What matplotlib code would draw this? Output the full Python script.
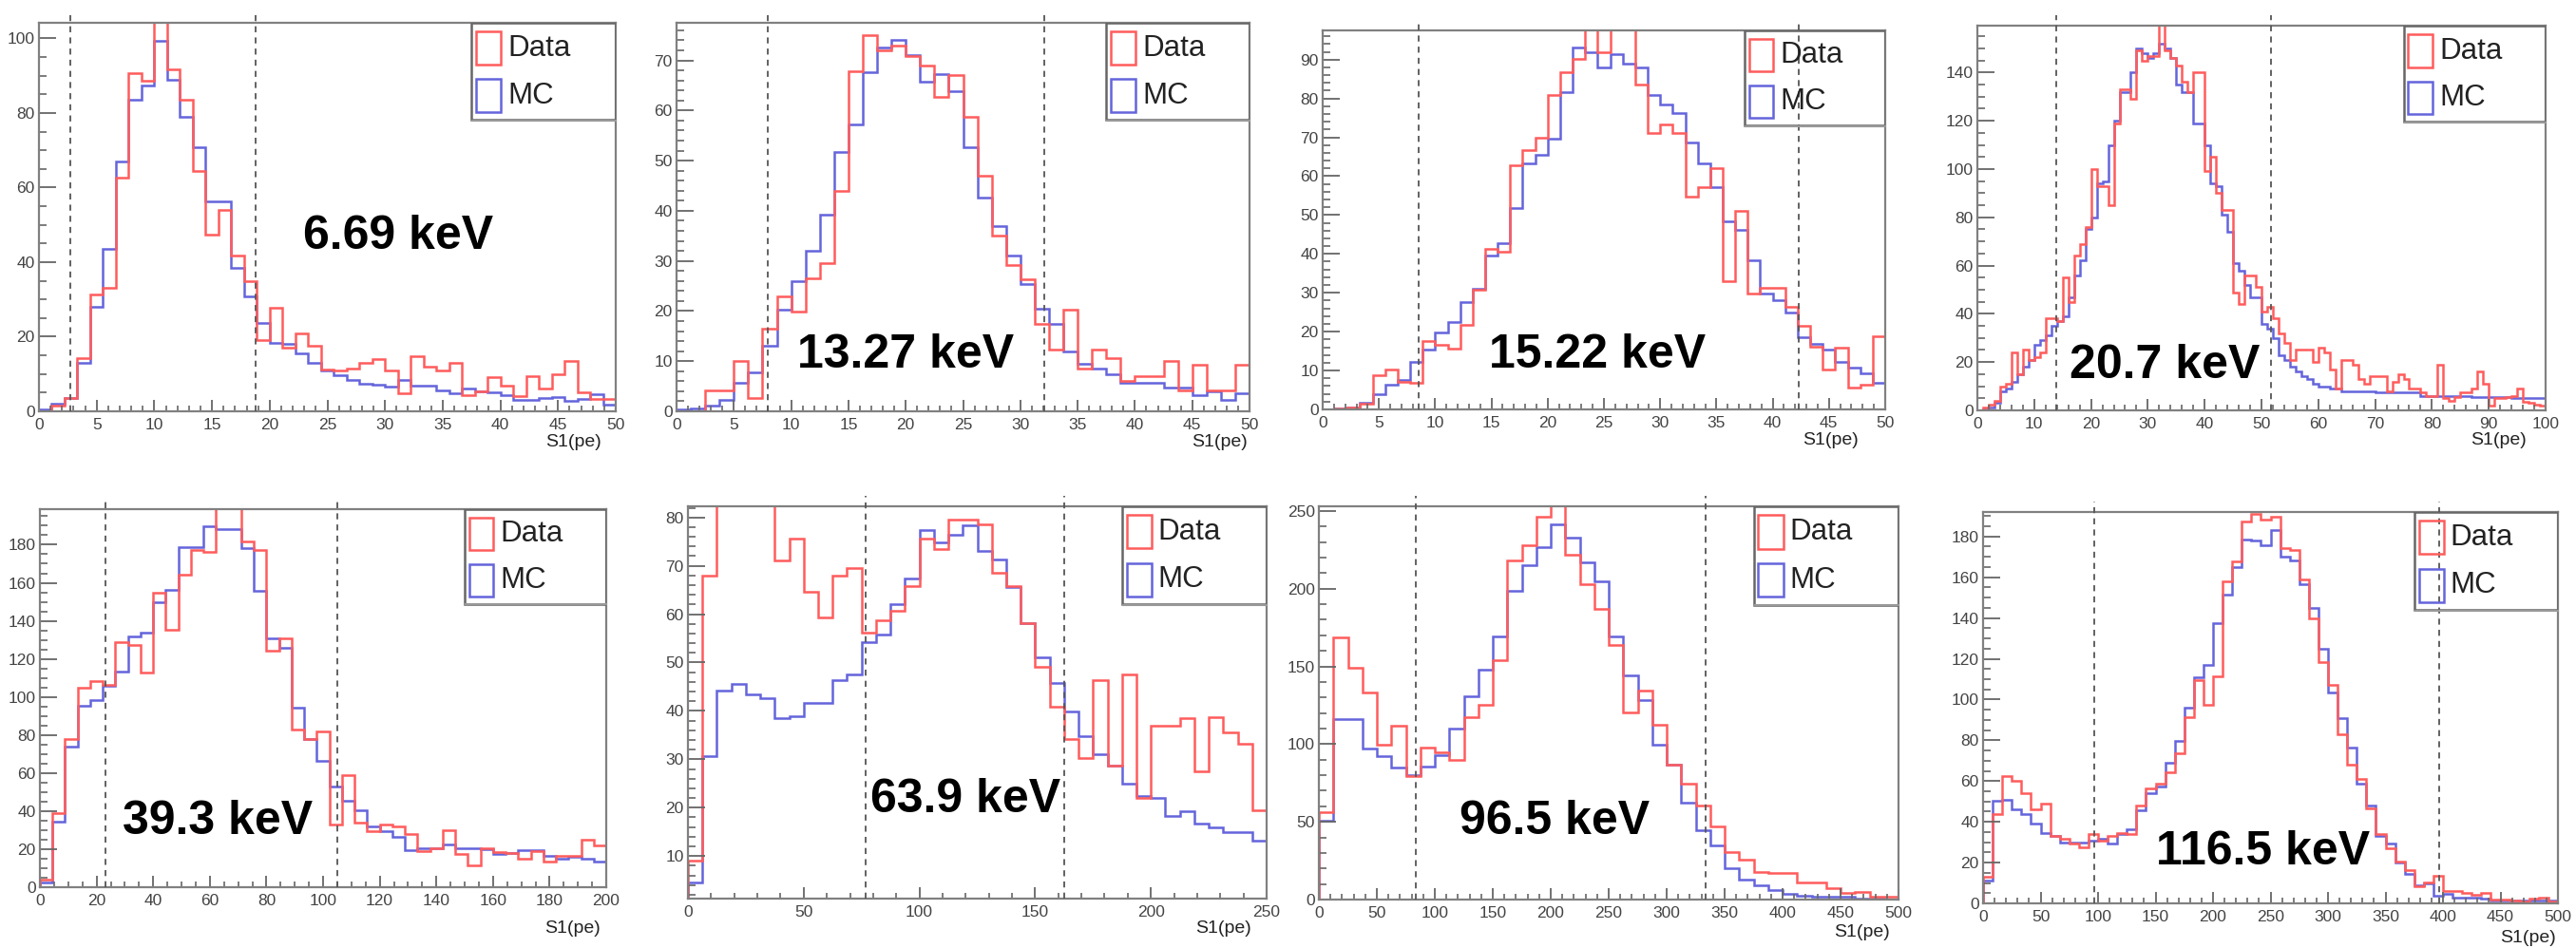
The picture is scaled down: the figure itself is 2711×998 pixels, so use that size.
import numpy as np
import matplotlib
matplotlib.use("Agg")
import matplotlib.pyplot as plt
from matplotlib.patches import Rectangle
from matplotlib.ticker import MultipleLocator

plt.rcParams['font.family'] = ['Liberation Sans', 'DejaVu Sans']

# ---- values (counts per bin) ----
labels = ['6.69 keV', '13.27 keV', '15.22 keV', '20.7 keV',
          '39.3 keV', '63.9 keV', '96.5 keV', '116.5 keV']

# x range and number of bins of every histogram
x_ranges = [(0, 50), (0, 50), (0, 50), (0, 100), (0, 200), (0, 250), (0, 500), (0, 500)]
n_bins = [45, 40, 45, 100, 45, 40, 40, 60]

# selection window (dashed lines)
cuts = [(2.7, 18.8), (8.0, 32.1), (8.5, 42.3), (13.9, 51.6),
        (23, 105), (76.6, 162.5), (83.8, 334), (96.9, 397)]

data_669 = [0, 1.5, 3.5, 14.3, 31.3, 33, 62.8, 90.8, 88.7, 108, 91.8, 83.6, 64.5, 47.4, 54,
            41.7, 34.9, 19, 27.7, 17.1, 20.8, 17.7, 11.1, 11, 11.5, 13, 13.9, 11, 4.9, 14.9,
            11.9, 11, 13, 4.3, 5.4, 9.2, 6.8, 4.1, 9.4, 6, 10, 13.5, 5, 3.4, 3.4]
mc_669 = [0.5, 2, 3.5, 13, 28, 43.6, 67, 83.6, 87.4, 99.3, 89, 79, 70.8, 56.4, 56.4,
          38.5, 30.9, 23.6, 18.3, 18, 15.6, 13, 11, 9.6, 8.3, 7.5, 7.2, 6.6, 8.3, 6.9,
          6.9, 5.6, 4.8, 6, 5.4, 5, 4.3, 3.1, 3.1, 3.5, 3.8, 2.9, 3.3, 4.5, 1.8]

data_1327 = [0, 0, 4.1, 4.1, 10.1, 2.7, 16.4, 23, 19.9, 26.5, 29.5, 44, 67.9, 75, 72, 73, 70.8,
             68.9, 62.7, 67, 58.8, 47, 35, 29.2, 26.3, 17.4, 12.3, 20.3, 8.5, 12.4, 10.7, 6.1,
             7.1, 7.1, 10.1, 4.2, 9.2, 4.1, 4.1, 9.2]
mc_1327 = [0.3, 0.5, 1.1, 2.2, 5.7, 7.7, 13.1, 20.3, 25.9, 32.1, 39.2, 51.8, 57.3, 67.6, 72.5,
           74, 71, 65.8, 67.3, 63.8, 52.7, 42.6, 37, 31, 25.3, 20.4, 17.4, 12, 9.5, 8.5, 7.3,
           5.7, 5.7, 5.7, 4.7, 4.7, 3.3, 4, 2.3, 3.6]

data_1522 = [0, 0.3, 0.5, 1.5, 8.8, 10.2, 7, 6.8, 17.7, 16.7, 15.7, 21.8, 30.8, 41.3, 40.5,
             62.7, 66.6, 69.8, 80.8, 86.7, 90.2, 101, 92, 101, 101, 83.6, 71.2, 73.2, 71.2,
             54.8, 57.2, 62.1, 33, 51.1, 29.7, 31.2, 31.2, 26.3, 21.4, 16.1, 10.2, 15.9, 5.5,
             6.3, 18.7]
mc_1522 = [0, 0.3, 0.5, 1.6, 3.9, 6.3, 7.6, 12.2, 15.3, 19.9, 22.5, 27.7, 31, 39.7, 42.7,
           51.9, 63.3, 65.5, 69.7, 81.6, 93, 92, 88, 91.5, 89, 88, 80.8, 78.4, 76.3, 68.6,
           63.3, 57.2, 48.3, 46.2, 38.3, 29.7, 28, 25, 18.5, 16.9, 15.3, 12.2, 10.8, 9.4, 6.8]

data_207 = [0, 1, 2.5, 4, 10, 11, 24, 15, 25, 21,
            22, 24, 38, 38, 37, 55, 45, 64, 69, 76,
            100, 93, 93, 85, 119, 133, 133, 129, 149, 145,
            147, 147, 165, 149, 146, 143, 136, 132, 140, 140,
            99, 105, 90, 83, 83, 49, 44, 56, 56, 51,
            41, 43, 38, 32, 28, 21, 25, 25, 25, 20,
            26, 24, 17, 9, 21, 21, 19, 13, 11, 14,
            14, 14, 8, 12, 15, 13, 9, 9, 7.5, 6,
            6, 19, 5, 4, 5.5, 7.5, 7.5, 9, 16, 11,
            2, 5, 5, 5.5, 6, 9, 3.5, 3, 2.5, 2]
mc_207 = [0, 0.5, 1, 3, 8, 9, 12, 15, 18, 21,
          27, 29, 31, 35, 37, 39, 47, 56, 62, 75,
          80, 94, 95, 110, 120, 132, 132, 140, 150, 148,
          146, 148, 152, 150, 146, 135, 132, 132, 119, 119,
          110, 94, 93, 81, 74, 61, 58, 52, 47, 47,
          36, 34, 30, 23, 21, 18, 16, 14, 13, 11,
          10, 10, 9, 9, 8, 8, 8, 8, 8, 8,
          7.5, 7.5, 7.5, 7.5, 7.5, 7.5, 7.5, 7.5, 6, 6,
          6, 6, 6, 6, 6, 6, 6, 5.5, 5.5, 5.5,
          5.5, 5.5, 5.5, 5.5, 5, 5, 5, 5, 5, 5]

data_393 = [4.1, 38.9, 78, 104.6, 108.4, 106.5, 128.6, 127.5, 113, 154.8, 135.3, 164.2, 177,
            176.3, 205, 205, 181.8, 177, 124.2, 131, 83, 78, 82, 33, 58.8, 34, 29.3, 33, 31.8,
            27.8, 19, 20.7, 29.8, 17.4, 11.6, 20.7, 18.5, 18.2, 14.9, 19, 13.6, 16.6, 16.6,
            25.2, 21.9]
mc_393 = [2.5, 34.4, 74, 95.2, 98.5, 106, 113.4, 132, 134, 149.8, 156.5, 178.5, 178.8, 189.6,
          188.4, 188, 178, 155.6, 131, 125.8, 94.4, 77.8, 66.2, 53, 45.5, 40.6, 31.8, 29.3,
          26.5, 19.5, 20.7, 20.4, 22.4, 20.7, 20.7, 19.9, 17.4, 18.2, 19.5, 19.5, 16.6, 15.2,
          16, 14.9, 13.6]

data_639 = [9, 67.9, 95, 95, 95, 95, 71.2, 75.7, 64.7, 59.4, 67.9, 69.5, 56.1, 58.7, 60.7,
            65.9, 75.7, 73.4, 79.5, 79.5, 78.5, 68.5, 65.8, 58.1, 49.2, 40.9, 34.2, 30.3, 46.3,
            28.6, 47.5, 22.1, 37, 37, 38.5, 27.5, 38.8, 35.5, 33.2, 19.5]
mc_639 = [4.6, 30.6, 44.2, 45.5, 43.5, 42.6, 38.5, 38.9, 41.6, 41.6, 46.3, 47.5, 54.2, 55.8,
          62, 67.4, 77.4, 74.8, 76.4, 78.4, 73.1, 71.4, 65.6, 58.1, 51, 45.8, 39.9, 34.7, 31.1,
          28.6, 25, 22.4, 22.1, 18.2, 19.2, 16.7, 15.9, 14.9, 14.9, 13.1]

data_965 = [56, 168.4, 149.4, 133, 99.6, 111.8, 79.6, 98, 94.9, 89.8, 117.3, 125.5, 154, 218.4,
            228.2, 246, 258, 222, 203, 186.7, 163.7, 120.4, 134.7, 112.7, 86.7, 74.5, 60.2,
            46.9, 30.6, 25.5, 17.8, 16.9, 16.9, 11.2, 11.2, 7.1, 4.1, 5.1, 2, 1.6]
mc_965 = [51, 116.3, 116.3, 97, 92.2, 84.7, 80, 85.7, 92.9, 110.2, 130.6, 148, 169.4, 198.4,
          215.3, 226.5, 241.2, 233, 216.7, 205, 169.4, 144.5, 128.6, 99.6, 86.7, 62.2, 44.9,
          34.7, 20.4, 12.7, 9.2, 6.1, 3.7, 2.7, 1.6, 1.6, 1.6, 0.6, 0.4, 0.2]

data_1165 = [12.9, 44, 62.6, 60.3, 54.1, 46.3, 48.7, 33.1, 31.6, 29.2, 27.7, 33.9, 30.8, 33.1,
             34.4, 33.9, 47.9, 56.4, 58.8, 64.5, 73.5, 91.4, 109.3, 97.6, 111.6, 158.2, 167.6,
             187.3, 190.9, 188.5, 189.8, 174.3, 173.4, 158.7, 139.6, 118.6, 107.3, 82.9, 68.1,
             61.1, 46.8, 33.9, 26.9, 20.7, 16.3, 8.5, 10.1, 13.4, 5.9, 6.2, 5.1, 4, 5.1, 1.7,
             1.7, 1.6, 0.9, 2.3, 2.8, 0.8]
mc_1165 = [11.3, 50.2, 51, 46.3, 44, 39.3, 34.7, 33.1, 30, 30, 30, 30.8, 31.6, 29.2, 33.9, 36.5,
           45.5, 54.1, 57.2, 68.9, 79.7, 96.1, 111.1, 117, 137.3, 151.3, 165.2, 178.5, 177.8,
           175.8, 183.1, 169.9, 168.3, 156.7, 144.7, 125.1, 103.4, 91.1, 76.2, 58.8, 47.9,
           33.1, 29.2, 19.9, 14.5, 9, 9.8, 3.6, 4.8, 2.8, 2.6, 2.6, 2.3, 1.6, 1.4, 1.2, 1.4,
           1.6, 1.2, 1.2]

data_hists = [data_669, data_1327, data_1522, data_207, data_393, data_639, data_965, data_1165]
mc_hists = [mc_669, mc_1327, mc_1522, mc_207, mc_393, mc_639, mc_965, mc_1165]

# axis setup per panel
y_limits = [(0, 104.2), (0, 77.5), (0, 97.5), (0, 159.4),
            (0, 198.7), (1.2, 82.3), (0, 253), (0, 192)]
x_major = [5, 5, 5, 10, 20, 50, 50, 50]
x_minor = [1, 1, 1, 2, 5, 10, 10, 10]
y_major = [20, 10, 10, 20, 20, 10, 50, 20]
y_minor = [5, 2, 2, 5, 5, 2, 10, 5]

# ---- layout in pixels of the 2711x998 picture ----
W, H = 2711, 998
boxes = [(41, 24, 648, 433), (712, 24, 1315, 433), (1392, 32, 1984, 431), (2081, 27, 2679, 432),
         (42, 536, 638, 934), (724, 533, 1333, 946), (1388, 533, 1998, 947), (2087, 539, 2692, 951)]
label_pos = [(419, 262), (953, 387), (1681, 387), (2278, 398),
             (229, 878), (1016, 855), (1636, 878), (2382, 910)]
xlabel_pos = [(633, 466), (1313, 466), (1956, 463), (2659, 464),
              (632, 977), (1317, 977), (1989, 982), (2690, 988)]

RED = '#ff5c5c'
BLUE = '#6464dc'

fig = plt.figure(figsize=(W / 100, H / 100), dpi=100)

for i in range(8):
    l, t, r, b = boxes[i]
    ax = fig.add_axes([l / W, 1 - b / H, (r - l) / W, (b - t) / H])
    lo, hi = x_ranges[i]
    edges = np.linspace(lo, hi, n_bins[i] + 1)

    ax.stairs(mc_hists[i], edges, baseline=0, color=BLUE, lw=1.8)
    ax.stairs(data_hists[i], edges, baseline=0, color=RED, lw=1.8)

    ax.set_xlim(lo, hi)
    ax.set_ylim(*y_limits[i])

    top_ext = 1 + 11 / (b - t)
    for c in cuts[i]:
        ax.axvline(c, ymin=0, ymax=top_ext, color='#555555', ls=(0, (3.5, 3)),
                   lw=1.3, clip_on=False, zorder=3)

    for s in ax.spines.values():
        s.set_color('#808080')
        s.set_linewidth(1.6)

    ax.xaxis.set_major_locator(MultipleLocator(x_major[i]))
    ax.xaxis.set_minor_locator(MultipleLocator(x_minor[i]))
    ax.yaxis.set_major_locator(MultipleLocator(y_major[i]))
    ax.yaxis.set_minor_locator(MultipleLocator(y_minor[i]))
    ax.tick_params(axis='x', which='major', direction='in', length=8.5, width=1.3,
                   color='#666666', labelcolor='#444444', labelsize=12.5, pad=5)
    ax.tick_params(axis='x', which='minor', direction='in', length=4.5, width=1.2,
                   color='#666666')
    ax.tick_params(axis='y', which='major', direction='in', length=13, width=1.3,
                   color='#666666', labelcolor='#444444', labelsize=12.5, pad=3)
    ax.tick_params(axis='y', which='minor', direction='in', length=6, width=1.2,
                   color='#666666')

    # ROOT style legend box in the top right corner
    ax.add_patch(Rectangle((0.75, 0.75), 0.25, 0.25, transform=ax.transAxes, fill=False,
                           edgecolor='#666666', lw=1.8, zorder=5))
    ax.plot([0.752, 1.0], [0.748, 0.748], transform=ax.transAxes, color='#999999',
            lw=1.5, zorder=5, clip_on=False)
    ax.add_patch(Rectangle((0.758, 0.8925), 0.043, 0.0855, transform=ax.transAxes,
                           fill=False, edgecolor=RED, lw=1.8, zorder=6))
    ax.add_patch(Rectangle((0.758, 0.77), 0.043, 0.085, transform=ax.transAxes,
                           fill=False, edgecolor=BLUE, lw=1.8, zorder=6))
    ax.text(0.8125, 0.934, 'Data', transform=ax.transAxes, fontsize=22.5,
            va='center', ha='left', color='#222222', zorder=6)
    ax.text(0.8125, 0.8125, 'MC', transform=ax.transAxes, fontsize=22.5,
            va='center', ha='left', color='#222222', zorder=6)

    lx, ly = label_pos[i]
    fig.text(lx / W, 1 - ly / H, labels[i], fontsize=36, fontweight='bold',
             ha='center', va='baseline', color='black')
    sx, sy = xlabel_pos[i]
    fig.text(sx / W, 1 - sy / H, 'S1(pe)', fontsize=14, ha='right', va='center',
             color='#222222')

fig.savefig('out.png', dpi=100, facecolor='white')
